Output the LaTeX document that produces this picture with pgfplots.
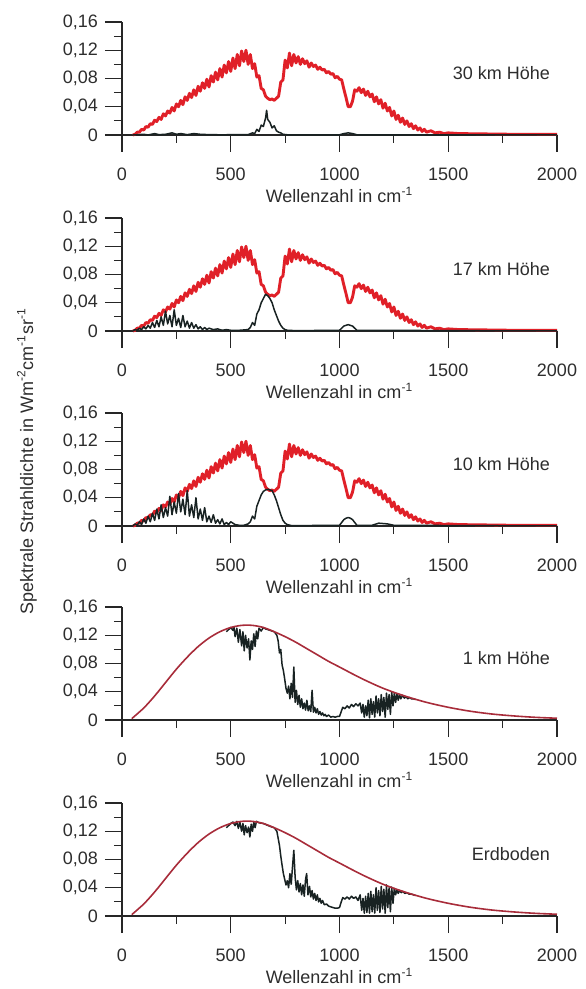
\documentclass[border=0pt]{standalone}
\usepackage{fontspec}
\setmainfont{Liberation Sans}
\usepackage{pgfplots}
\usepackage{pgfplotstable}
\pgfplotsset{compat=1.18}

\definecolor{specred}{RGB}{224,32,40}
\definecolor{planck}{RGB}{168,44,58}
\definecolor{spec}{RGB}{24,34,34}
\definecolor{txt}{RGB}{45,45,45}

% upper atmosphere (30, 17, 10 km): outgoing spectrum, jagged band
\pgfplotstableread{
x y
50 0.000
60 0.001
70 0.004
80 0.004
90 0.008
100 0.007
110 0.012
120 0.011
130 0.016
140 0.015
150 0.021
160 0.019
170 0.025
180 0.022
190 0.030
200 0.027
210 0.034
220 0.031
230 0.039
240 0.034
250 0.044
260 0.040
270 0.049
280 0.043
290 0.054
300 0.049
310 0.059
320 0.053
330 0.064
340 0.056
350 0.069
360 0.062
370 0.074
380 0.066
390 0.079
400 0.068
410 0.084
420 0.075
430 0.089
440 0.078
450 0.094
460 0.082
470 0.099
480 0.088
490 0.104
500 0.090
510 0.109
520 0.094
530 0.114
540 0.098
550 0.119
560 0.104
570 0.120
580 0.100
590 0.114
600 0.094
610 0.101
620 0.082
630 0.084
640 0.066
650 0.064
660 0.055
670 0.052
680 0.050
690 0.051
700 0.049
710 0.052
720 0.055
730 0.075
740 0.078
750 0.106
760 0.095
770 0.116
780 0.098
790 0.114
800 0.102
810 0.111
820 0.100
830 0.108
840 0.101
850 0.105
860 0.096
870 0.102
880 0.097
890 0.099
900 0.093
910 0.096
920 0.092
930 0.093
940 0.088
950 0.090
960 0.086
970 0.087
980 0.081
990 0.083
1000 0.079
1010 0.078
1020 0.065
1030 0.053
1040 0.040
1050 0.040
1060 0.048
1070 0.064
1080 0.062
1090 0.067
1100 0.060
1110 0.065
1120 0.056
1130 0.062
1140 0.054
1150 0.058
1160 0.047
1170 0.054
1180 0.044
1190 0.050
1200 0.038
1210 0.045
1220 0.034
1230 0.039
1240 0.027
1250 0.034
1260 0.022
1270 0.028
1280 0.018
1290 0.024
1300 0.015
1310 0.020
1320 0.012
1330 0.016
1340 0.009
1350 0.013
1360 0.007
1370 0.010
1380 0.005
1390 0.008
1400 0.004
1420 0.006
1440 0.003
1460 0.004
1480 0.002
1500 0.003
1550 0.002
1600 0.0018
1700 0.0014
1800 0.001
1900 0.001
2000 0.0008
}\redhigh

% surface / 1 km: smooth curve of the ground emission
\pgfplotstableread{
x y
45 0.002
100 0.017
150 0.034
200 0.053
250 0.072
300 0.089
350 0.104
400 0.116
450 0.125
500 0.131
550 0.134
600 0.134
650 0.131
700 0.125
750 0.118
800 0.110
850 0.101
900 0.092
950 0.083
1000 0.075
1100 0.059
1200 0.045
1300 0.034
1400 0.025
1500 0.018
1600 0.0125
1700 0.0085
1800 0.0058
1900 0.0038
2000 0.0025
}\redlow

\pgfplotstableread{
x y
50 0
100 0.001
120 0
150 0.002
170 0.0005
200 0.001
230 0.003
250 0.001
270 0.002
300 0.0005
330 0.002
360 0.001
400 0.0005
450 0.0003
580 0.0005
600 0.003
610 0.002
620 0.008
630 0.005
640 0.014
650 0.012
660 0.024
665 0.035
670 0.022
680 0.018
690 0.010
700 0.013
710 0.006
720 0.004
730 0.003
740 0.001
760 0.0003
1000 0.0003
1020 0.002
1040 0.003
1060 0.002
1080 0.0003
2000 0
}\kthirty

\pgfplotstableread{
x y
50 0
60 0.002
70 0.001
80 0.004
90 0.002
100 0.006
110 0.003
120 0.008
130 0.004
140 0.012
150 0.005
160 0.015
170 0.006
180 0.020
190 0.008
200 0.028
210 0.010
220 0.022
230 0.006
240 0.030
250 0.008
260 0.018
270 0.005
280 0.022
290 0.006
300 0.014
310 0.004
320 0.012
330 0.004
340 0.009
350 0.003
360 0.006
370 0.002
380 0.005
390 0.002
400 0.004
420 0.002
440 0.003
460 0.001
480 0.002
500 0.001
540 0.001
580 0.002
590 0.005
600 0.012
610 0.008
620 0.024
630 0.030
640 0.040
650 0.046
660 0.052
670 0.050
680 0.046
690 0.040
700 0.030
710 0.022
720 0.014
730 0.008
740 0.004
750 0.002
760 0.001
800 0.0005
1000 0.001
1010 0.004
1020 0.007
1030 0.008
1040 0.009
1050 0.008
1060 0.007
1070 0.004
1080 0.001
1200 0.001
1500 0.0005
2000 0
}\kseventeen

\pgfplotstableread{
x y
50 0
60 0.003
70 0.001
80 0.006
90 0.002
100 0.010
110 0.004
120 0.014
130 0.006
140 0.018
150 0.008
160 0.024
170 0.010
180 0.030
190 0.012
200 0.026
210 0.014
220 0.042
230 0.016
240 0.034
250 0.018
260 0.046
270 0.020
280 0.038
290 0.016
300 0.050
310 0.014
320 0.030
330 0.012
340 0.040
350 0.010
360 0.024
370 0.008
380 0.026
390 0.006
400 0.014
410 0.005
420 0.016
430 0.004
440 0.009
450 0.003
460 0.010
470 0.002
480 0.005
490 0.002
500 0.006
520 0.002
540 0.001
560 0.001
580 0.003
590 0.006
600 0.014
610 0.010
620 0.028
630 0.036
640 0.044
650 0.049
660 0.051
670 0.052
680 0.051
690 0.050
700 0.044
710 0.036
720 0.026
730 0.016
740 0.008
750 0.004
760 0.002
780 0.0005
1000 0.001
1010 0.005
1020 0.009
1030 0.011
1040 0.012
1050 0.011
1060 0.009
1070 0.005
1080 0.001
1150 0.001
1180 0.004
1220 0.003
1250 0.001
2000 0
}\kten

\pgfplotstableread{
x y
480 0.125
500 0.131
510 0.127
515 0.131
520 0.118
528 0.130
535 0.110
542 0.128
550 0.105
556 0.125
562 0.098
568 0.120
575 0.102
582 0.115
588 0.085
594 0.112
600 0.100
606 0.122
612 0.104
618 0.126
624 0.115
630 0.130
640 0.126
650 0.131
660 0.129
680 0.127
700 0.125
712 0.120
718 0.112
724 0.095
730 0.100
736 0.078
742 0.070
748 0.058
754 0.045
760 0.038
766 0.048
772 0.030
778 0.052
784 0.032
790 0.075
796 0.025
802 0.042
808 0.022
814 0.035
820 0.018
826 0.030
832 0.016
838 0.024
844 0.014
850 0.028
856 0.013
862 0.020
868 0.012
874 0.042
880 0.011
886 0.018
892 0.010
898 0.016
904 0.008
910 0.012
916 0.007
922 0.010
928 0.006
934 0.008
940 0.005
950 0.007
960 0.004
970 0.005
980 0.004
990 0.005
1000 0.005
1008 0.012
1015 0.018
1025 0.016
1035 0.020
1045 0.017
1055 0.022
1065 0.019
1075 0.023
1085 0.020
1095 0.024
1102 0.010
1108 0.022
1114 0.004
1120 0.020
1126 0.006
1132 0.028
1138 0.003
1144 0.030
1150 0.008
1156 0.026
1162 0.004
1168 0.034
1174 0.010
1180 0.030
1186 0.006
1192 0.036
1198 0.012
1204 0.032
1210 0.004
1216 0.038
1222 0.015
1228 0.036
1234 0.008
1240 0.040
1246 0.020
1252 0.038
1258 0.025
1264 0.037
1270 0.028
1276 0.036
1282 0.030
1290 0.035
1298 0.031
1306 0.033
1314 0.030
1322 0.032
1330 0.030
1340 0.030
1350 0.029
}\kone

\pgfplotstableread{
x y
480 0.125
500 0.131
510 0.133
520 0.128
528 0.134
535 0.124
542 0.133
550 0.120
556 0.131
562 0.115
568 0.128
575 0.118
582 0.126
588 0.112
594 0.130
600 0.120
606 0.133
612 0.125
618 0.134
630 0.132
650 0.131
680 0.127
700 0.125
712 0.120
718 0.110
724 0.100
730 0.085
736 0.072
742 0.060
748 0.052
754 0.044
760 0.050
766 0.040
772 0.060
778 0.045
784 0.070
790 0.093
796 0.055
802 0.037
808 0.050
814 0.034
820 0.046
826 0.030
832 0.044
838 0.028
844 0.052
849 0.060
855 0.030
862 0.042
868 0.027
874 0.036
880 0.024
886 0.032
892 0.022
898 0.030
904 0.020
910 0.025
916 0.018
922 0.022
930 0.016
940 0.017
950 0.014
960 0.013
970 0.012
980 0.011
990 0.011
1000 0.012
1008 0.020
1015 0.026
1025 0.024
1035 0.027
1045 0.024
1055 0.028
1065 0.025
1075 0.027
1085 0.022
1095 0.030
1102 0.008
1108 0.025
1114 0.004
1120 0.028
1126 0.005
1132 0.032
1138 0.004
1144 0.035
1150 0.006
1156 0.030
1162 0.004
1168 0.040
1174 0.008
1180 0.036
1186 0.005
1192 0.042
1198 0.010
1204 0.038
1210 0.004
1216 0.044
1222 0.012
1228 0.040
1234 0.006
1240 0.041
1246 0.018
1252 0.039
1258 0.030
1264 0.037
1270 0.032
1276 0.036
1284 0.033
1292 0.035
1300 0.032
1310 0.033
1320 0.031
1330 0.031
1340 0.030
1350 0.029
}\kground

\pgfplotsset{
  panel/.style={
    width=217.5pt, height=56.5pt, scale only axis,
    anchor=south west,
    xmin=0, xmax=2000, ymin=0, ymax=0.16,
    axis lines=left,
    axis line style={-, line width=0.7pt, draw=black!85},
    every outer x axis line/.append style={-},
    every outer y axis line/.append style={-},
    tick align=outside,
    xtick={0,500,1000,1500,2000},
    xticklabels={0,500,1000,1500,2000},
    minor xtick={250,750,1250,1750},
    ytick={0,0.04,0.08,0.12,0.16},
    yticklabels={0,{0,04},{0,08},{0,12},{0,16}},
    minor ytick={0.02,0.06,0.10,0.14},
    major tick length=8.5pt, minor tick length=4pt,
    every tick/.style={line width=0.6pt, black!85},
    tick label style={font=\fontsize{9}{10}\selectfont, text=txt},
    xticklabel style={yshift=-4.5pt},
    xlabel={Wellenzahl in cm\textsuperscript{-1}},
    xlabel style={font=\fontsize{9}{10}\selectfont, text=txt,
      at={(axis description cs:0.5,0)}, anchor=center, yshift=-30pt},
    clip=false,
  },
  hi/.style={specred, line width=1.45pt, line join=round},
  bb/.style={spec, line width=0.75pt, line join=round},
  pl/.style={planck, line width=0.8pt, smooth},
}
\tikzset{tag/.style={anchor=east, font=\fontsize{9}{10}\selectfont, text=txt}}

\begin{document}
\begin{tikzpicture}
\useasboundingbox (-61pt,67.5pt) rectangle (231.5pt,-427pt);

\begin{axis}[panel, at={(0pt,0pt)}]
\addplot[hi] table {\redhigh};
\addplot[bb] table {\kthirty};
\node[tag] at (axis cs:2000,0.088) {30 km Höhe};
\end{axis}

\begin{axis}[panel, at={(0pt,-98pt)}]
\addplot[hi] table {\redhigh};
\addplot[bb] table {\kseventeen};
\node[tag] at (axis cs:2000,0.088) {17 km Höhe};
\end{axis}

\begin{axis}[panel, at={(0pt,-195.5pt)}]
\addplot[hi] table {\redhigh};
\addplot[bb] table {\kten};
\node[tag] at (axis cs:2000,0.088) {10 km Höhe};
\end{axis}

\begin{axis}[panel, at={(0pt,-292.5pt)}]
\addplot[bb] table {\kone};
\addplot[pl] table {\redlow};
\node[tag] at (axis cs:2000,0.088) {1 km Höhe};
\end{axis}

\begin{axis}[panel, at={(0pt,-390.5pt)}]
\addplot[bb] table {\kground};
\addplot[pl] table {\redlow};
\node[tag] at (axis cs:2000,0.088) {Erdboden};
\end{axis}

\node[rotate=90, font=\fontsize{9}{10}\selectfont, text=txt] at (-47.5pt,-163pt)
  {Spektrale Strahldichte in Wm\textsuperscript{-2}cm\textsuperscript{-1}sr\textsuperscript{-1}};
\end{tikzpicture}
\end{document}
